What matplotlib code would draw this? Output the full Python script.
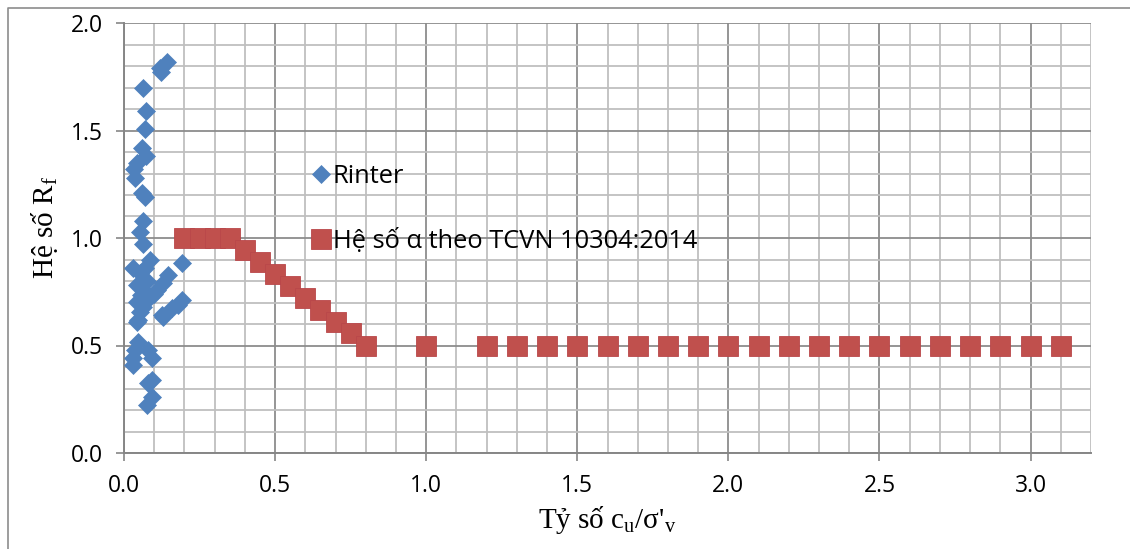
import matplotlib
matplotlib.use("Agg")
import matplotlib.pyplot as plt
from matplotlib.ticker import MultipleLocator, FormatStrFormatter
from matplotlib.lines import Line2D

# ---- data ----
rinter_x = [0.141, 0.118, 0.122, 0.064, 0.073, 0.069, 0.061, 0.073, 0.042, 0.033,
            0.036, 0.058, 0.068, 0.062, 0.053, 0.064,
            0.086, 0.191, 0.031, 0.053, 0.147, 0.130, 0.042, 0.064, 0.108, 0.086,
            0.191, 0.042, 0.158, 0.125, 0.053, 0.042, 0.064, 0.180, 0.130, 0.047,
            0.075, 0.100, 0.055, 0.070,
            0.047, 0.036, 0.080, 0.092, 0.031, 0.031, 0.092, 0.080, 0.092, 0.075]
rinter_y = [1.82, 1.79, 1.77, 1.70, 1.59, 1.505, 1.42, 1.38, 1.35, 1.32,
            1.28, 1.21, 1.19, 1.08, 1.03, 0.97,
            0.898, 0.882, 0.859, 0.837, 0.828, 0.789, 0.781, 0.758, 0.758, 0.727,
            0.712, 0.704, 0.673, 0.642, 0.657, 0.611, 0.680, 0.688, 0.634, 0.619,
            0.800, 0.740, 0.735, 0.860,
            0.518, 0.479, 0.479, 0.440, 0.440, 0.409, 0.340, 0.324, 0.262, 0.223]

tcvn_x = [0.20, 0.25, 0.30, 0.35, 0.40, 0.45, 0.50, 0.55, 0.60, 0.65, 0.70, 0.75, 0.80,
          1.0, 1.2, 1.3, 1.4, 1.5, 1.6, 1.7, 1.8, 1.9, 2.0, 2.1, 2.2, 2.3, 2.4,
          2.5, 2.6, 2.7, 2.8, 2.9, 3.0, 3.1]
tcvn_y = [1.0, 1.0, 1.0, 1.0, 0.944, 0.889, 0.833, 0.778, 0.722, 0.667, 0.611, 0.556, 0.5,
          0.5, 0.5, 0.5, 0.5, 0.5, 0.5, 0.5, 0.5, 0.5, 0.5, 0.5, 0.5, 0.5, 0.5,
          0.5, 0.5, 0.5, 0.5, 0.5, 0.5, 0.5]

label_rinter = "Rinter"
label_tcvn = "Hệ số α theo TCVN 10304:2014"
xlabel = "Tỷ số c$_{\\mathrm{u}}$/σ'$_{\\mathrm{v}}$"
ylabel = "Hệ số R$_{\\mathrm{f}}$"

# ---- style ----
plt.rcParams['font.family'] = ['Open Sans', 'DejaVu Sans']
plt.rcParams['mathtext.fontset'] = 'custom'
plt.rcParams['mathtext.rm'] = 'Liberation Serif'
plt.rcParams['mathtext.it'] = 'Liberation Serif:italic'
plt.rcParams['mathtext.bf'] = 'Liberation Serif:bold'

W, H = 1130, 549
fig = plt.figure(figsize=(W / 100, H / 100), dpi=100)
ax = fig.add_axes([124 / W, 1 - 453 / H, (1091 - 124) / W, (453 - 23) / H])

blue = '#4F81BD'
red = '#C0504D'
axis_gray = '#868686'

ax.plot(rinter_x, rinter_y, linestyle='none', marker='D', ms=9.5,
        color=blue, mec=blue, mew=0.5, label=label_rinter, zorder=3)
ax.plot(tcvn_x, tcvn_y, linestyle='none', marker='s', ms=14,
        color=red, mec='#B9474A', mew=0.6, label=label_tcvn, zorder=4)

ax.set_xlim(0, 3.2)
ax.set_ylim(0, 2.0)
ax.xaxis.set_major_locator(MultipleLocator(0.5))
ax.xaxis.set_minor_locator(MultipleLocator(0.1))
ax.yaxis.set_major_locator(MultipleLocator(0.5))
ax.yaxis.set_minor_locator(MultipleLocator(0.1))
ax.xaxis.set_major_formatter(FormatStrFormatter('%.1f'))
ax.yaxis.set_major_formatter(FormatStrFormatter('%.1f'))

ax.set_axisbelow(True)
ax.grid(which='minor', color='#BFBFBF', linewidth=1.3)
ax.grid(which='major', color='#8C8C8C', linewidth=1.3)

ax.tick_params(which='major', direction='out', length=6, width=1.2,
               color=axis_gray, labelsize=16.5, pad=9, labelcolor='black')
ax.tick_params(which='minor', length=0)

for s in ['top', 'right']:
    ax.spines[s].set_visible(False)
for s in ['left', 'bottom']:
    ax.spines[s].set_color(axis_gray)
    ax.spines[s].set_linewidth(1.4)

fig.text((124 + 1091) / 2 / W, 1 - 520 / H, xlabel, ha='center', va='center',
         fontsize=21, family=['Liberation Serif', 'DejaVu Serif'])
fig.text(45 / W, 1 - 228 / H, ylabel, ha='center', va='center', rotation=90,
         fontsize=21, family=['Liberation Serif', 'DejaVu Serif'])

leg = ax.legend(loc='center left', bbox_to_anchor=((311 - 124) / 967, (453 - 209) / 430),
                frameon=False, fontsize=18.3, handlelength=0.8, handletextpad=0.05,
                borderpad=0, borderaxespad=0, labelspacing=1.55, numpoints=1)

# outer chart border
fig.add_artist(Line2D([8 / W, 8 / W, 1.0], [0.0, 1 - 8 / H, 1 - 8 / H],
                      transform=fig.transFigure, color='#8C8C8C', linewidth=1.2))

fig.savefig('out.png', dpi=100, facecolor='white')
